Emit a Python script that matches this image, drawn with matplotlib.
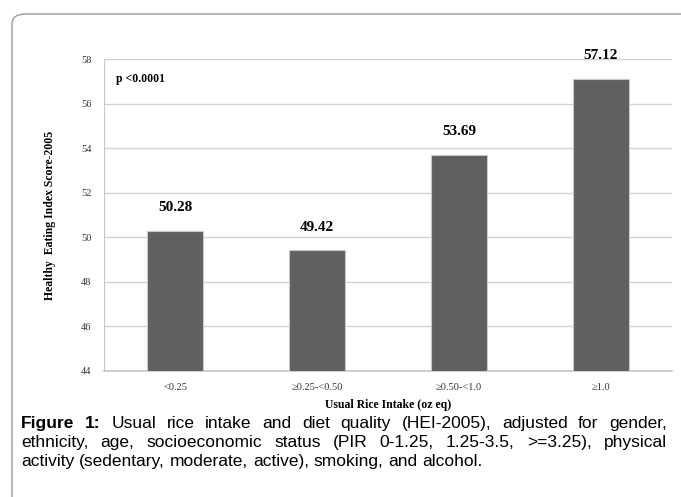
import matplotlib.pyplot as plt
from matplotlib.patches import FancyBboxPatch

# bar chart of HEI-2005 score by usual rice intake, with a figure caption below

categories = ["<0.25", "\u22650.25-<0.50", "\u22650.50-<1.0", "\u22651.0"]
scores = [50.28, 49.42, 53.69, 57.12]
y_ticks = [44, 46, 48, 50, 52, 54, 56, 58]

caption_lines = [
    ["Figure 1:", "Usual rice intake and diet quality (HEI-2005), adjusted for gender,"],
    ["", "ethnicity, age, socioeconomic status (PIR 0-1.25, 1.25-3.5, >=3.25), physical"],
    ["", "activity (sedentary, moderate, active), smoking, and alcohol."],
]

serif = "Liberation Serif"
sans = "Liberation Sans"

fig = plt.figure(figsize=(6.81, 4.97), dpi=100)

# rounded frame around the whole figure
frame = FancyBboxPatch((12 / 681, -0.2), 1.2, 1.2 - 14 / 497,
                       boxstyle="round,pad=0,rounding_size=0.02",
                       transform=fig.transFigure, fill=False,
                       edgecolor="#9a9a9a", linewidth=1.0)
fig.patches.append(frame)

ax = fig.add_axes([104 / 681, 1 - 371 / 497, (672 - 104) / 681, (371 - 59) / 497])

x = range(len(categories))
ax.bar(x, scores, width=0.4, color="#606060", edgecolor="#c8c8c8", linewidth=0.8, zorder=3)

for xi, v in zip(x, scores):
    ax.annotate(f"{v:.2f}", (xi, v), xytext=(0, 12), textcoords="offset points",
                ha="center", va="bottom", fontsize=11, fontweight="bold", family=serif)

ax.set_ylim(44, 58)
ax.set_xlim(-0.5, len(categories) - 0.5)
ax.set_yticks(y_ticks)
ax.set_yticklabels([str(t) for t in y_ticks], family=serif, fontsize=7.5, color="#333333")
ax.set_xticks(list(x))
ax.set_xticklabels(categories, family=serif, fontsize=7.5, color="#333333")
ax.tick_params(length=0, pad=9)

ax.grid(axis="y", color="#d4d4d4", linewidth=1.0, zorder=0)
for s in ["top", "right"]:
    ax.spines[s].set_visible(False)
ax.spines["left"].set_color("#c8c8c8")
ax.spines["bottom"].set_color("#c8c8c8")
ax.spines["bottom"].set_linewidth(1.2)

ax.set_ylabel("Healthy  Eating Index Score-2005", family=serif, fontsize=8.5,
              fontweight="bold", labelpad=18)
ax.set_xlabel("Usual Rice Intake (oz eq)", family=serif, fontsize=8.5,
              fontweight="bold", labelpad=5)

ax.text(0.022, 0.935, "p <0.0001", transform=ax.transAxes, family=serif,
        fontsize=8.5, fontweight="bold", va="center", ha="left")

# caption, first two lines justified across the frame width
renderer = fig.canvas.get_renderer()
left_px, right_px = 21, 667
baseline_y = [428, 447, 466]
fs = 12.5
space = fig.text(0, 0, "a b", family=sans, fontsize=fs)
ab = fig.text(0, 0, "ab", family=sans, fontsize=fs)
normal_gap = space.get_window_extent(renderer).width - ab.get_window_extent(renderer).width
space.remove()
ab.remove()
for i, (bold, rest) in enumerate(caption_lines):
    words = []
    if bold:
        words += [(w, "bold") for w in bold.split()]
    words += [(w, "normal") for w in rest.split()]
    texts = []
    for w, wt in words:
        t = fig.text(0, 1 - baseline_y[i] / 497, w, family=sans, fontsize=fs,
                     fontweight=wt, va="baseline", ha="left")
        texts.append(t)
    widths = [t.get_window_extent(renderer).width for t in texts]
    if i < len(caption_lines) - 1:
        gap = (right_px - left_px - sum(widths)) / (len(words) - 1)
    else:
        gap = normal_gap
    xpos = left_px
    for t, w in zip(texts, widths):
        t.set_x(xpos / 681)
        xpos += w + gap

fig.savefig("out.png", dpi=100)
